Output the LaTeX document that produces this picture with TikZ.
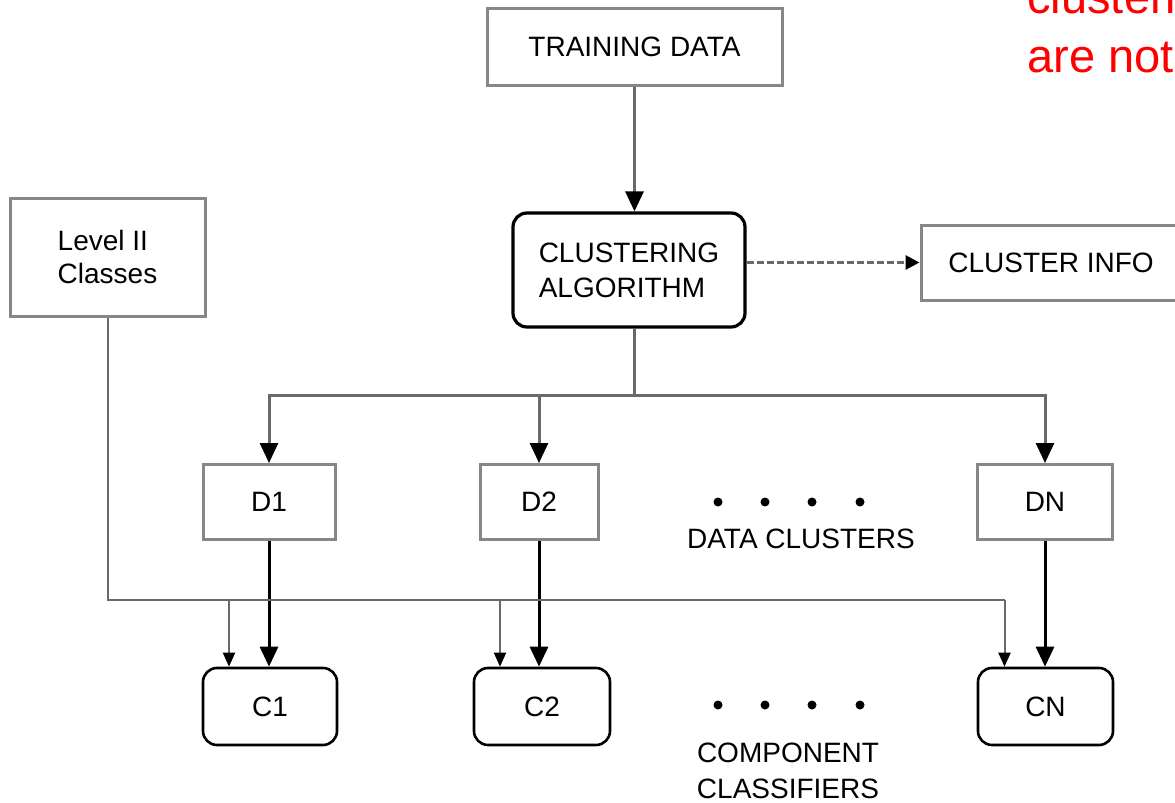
\documentclass[tikz,border=0pt]{standalone}
\usepackage{fontspec}
\setmainfont{Liberation Sans}
\usetikzlibrary{arrows.meta}
\pgfdeclarelayer{background}
\pgfsetlayers{background,main}

\definecolor{boxgray}{RGB}{135,135,135}
\definecolor{linegray}{RGB}{105,105,105}
\definecolor{notered}{RGB}{255,0,0}

\begin{document}
\begin{tikzpicture}[x=0.5pt,y=-0.5pt,
				squarenode/.style={draw=boxgray, line width=1.5pt, fill=white, inner sep=0pt, align=center, font=\fontsize{14}{16.5}\selectfont},
				roundnode/.style={squarenode, draw=black, line width=1.3pt, rounded corners=7pt},
				dotnode/.style={circle, fill=black, inner sep=0pt, minimum size=4.5pt},
				labelnode/.style={inner sep=0pt, align=center, font=\fontsize{14}{18}\selectfont},
				notenode/.style={inner sep=0pt, anchor=base west, text=notered, font=\fontsize{23.5}{28}\selectfont},
				mainline/.style={draw=linegray, line width=1.5pt},
				mainarrow/.style={mainline, -{Triangle[width=9pt,length=10pt,color=black]}},
				blackarrow/.style={draw=black, line width=1.5pt, -{Triangle[width=9pt,length=10pt]}},
				thinline/.style={draw=linegray, line width=1pt},
				thinarrow/.style={thinline, -{Triangle[width=6pt,length=7pt,color=black]}},
				dashline/.style={draw=linegray, line width=1.5pt, dash pattern=on 3.5pt off 1.5pt, -{Triangle[width=7pt,length=7pt,color=black]}},
				]
				\useasboundingbox (0,0) rectangle (1175,803);
				\clip (0,0) rectangle (1175,803);
				%Nodes
				\node[squarenode, minimum width=147.5pt, minimum height=38.5pt]	(train)	at (634.5,46.5)	{TRAINING DATA};
				\node[roundnode, line width=1.6pt, minimum width=116pt, minimum height=57pt, align=left, font=\fontsize{14}{17.5}\selectfont]	(clus)	at (629,270)	{CLUSTERING\\ALGORITHM};
				\node[squarenode, minimum width=130pt, minimum height=37.5pt]	(info)	at (1051,262.5)	{CLUSTER INFO};
				\node[squarenode, minimum width=97.5pt, minimum height=59pt, align=left]	(lvl)	at (107.5,257)	{Level II\\Classes};
				\node[squarenode, minimum width=66pt, minimum height=37.5pt]	(d1)	at (269,502)	{D1};
				\node[squarenode, minimum width=59pt, minimum height=37.5pt]	(d2)	at (539,502)	{D2};
				\node[squarenode, minimum width=67.5pt, minimum height=37.5pt]	(dn)	at (1045,502)	{DN};
				\node[roundnode, minimum width=67pt, minimum height=38.5pt]	(c1)	at (270,706.5)	{C1};
				\node[roundnode, minimum width=68pt, minimum height=38.5pt]	(c2)	at (542,706.5)	{C2};
				\node[roundnode, minimum width=67.5pt, minimum height=38.5pt]	(cn)	at (1045.5,706.5)	{CN};
				\foreach \i/\x in {1/718,2/765,3/812,4/860}{
					\node[dotnode]	(ddot\i)	at (\x,502)	{};
					\node[dotnode]	(cdot\i)	at (\x,705)	{};
				}
				\node[labelnode]	(dlabel)	at (801,539)	{DATA CLUSTERS};
				\node[labelnode]	(clabel)	at (788,771)	{COMPONENT\\CLASSIFIERS};
				\node[notenode]	(note1)	at (1027,13)	{clustering};
				\node[notenode]	(note2)	at (1027,72)	{are not};
				\coordinate	(bus)	at (634.5,395);
				\coordinate	(cbus)	at (107.5,600);
				\coordinate	(k1)	at ([xshift=-20.5pt]c1.north);
				\coordinate	(k2)	at ([xshift=-21pt]c2.north);
				\coordinate	(kn)	at ([xshift=-20.5pt]cn.north);

				\begin{pgfonlayer}{background}
				%Lines
				\draw[mainarrow] (train.south) -- (train.south |- clus.north);
				\draw[mainline] (train.south |- clus.south) -- (bus);
				\draw[mainline, line cap=rect] (d1.north |- bus) -- (dn.north |- bus);
				\foreach \n in {d1,d2,dn}
					\draw[mainarrow] (\n.north |- bus) -- (\n.north);
				\draw[dashline] (clus.east |- info.west) -- (info.west);
				\foreach \d/\c in {d1/c1,d2/c2,dn/cn}
					\draw[blackarrow] (\d.south) -- (\d.south |- \c.north);
				\draw[thinline] (lvl.south) -- (cbus) -- (cbus -| kn);
				\foreach \k in {k1,k2,kn}
					\draw[thinarrow] (cbus -| \k) -- (\k);
				\end{pgfonlayer}
\end{tikzpicture}
\end{document}
